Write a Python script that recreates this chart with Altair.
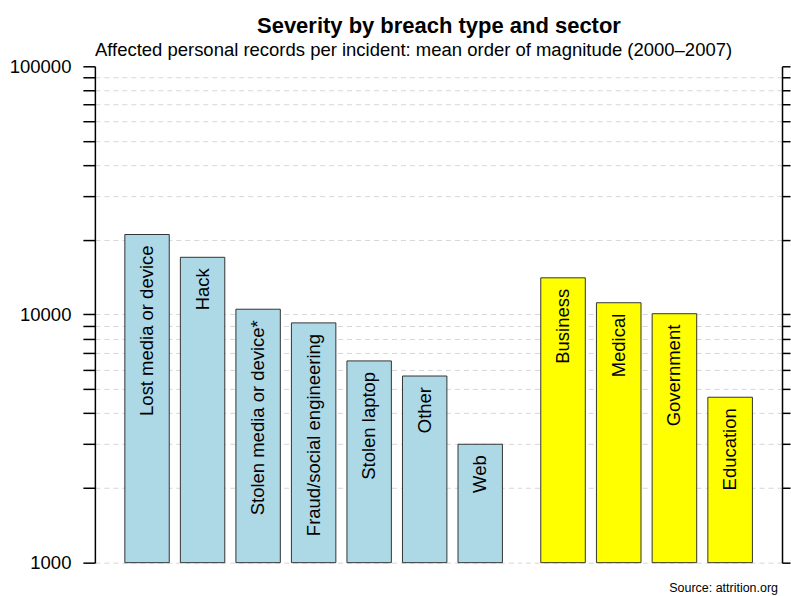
import altair as alt
import pandas as pd

# Breach types (light blue) and sectors (yellow): mean records per incident
types = ["Lost media or device", "Hack", "Stolen media or device*",
         "Fraud/social engineering", "Stolen laptop", "Other", "Web"]
type_records = [21000, 17000, 10500, 9250, 6500, 5650, 3000]

sectors = ["Business", "Medical", "Government", "Education"]
sector_records = [14050, 11150, 10070, 4640]

tick_values = [m * 10 ** e for e in (3, 4) for m in range(1, 10)] + [100000]
decades = [1000, 10000, 100000]

FONT = "Liberation Sans"
PLOT_H = 497


def y_enc(orient, show_labels):
    label_expr = " || ".join(f"datum.value == {d}" for d in decades)
    return alt.Y(
        "records:Q",
        scale=alt.Scale(type="log", domain=[1000, 100000], nice=False),
        axis=alt.Axis(
            orient=orient,
            values=tick_values,
            labels=show_labels,
            labelExpr=f"({label_expr}) ? format(datum.value, 'd') : ''",
            labelFontSize=18.5,
            labelColor="black",
            labelFont=FONT,
            labelPadding=12,
            labelFlush=False,
            labelOverlap=False,
            labelBound=False,
            tickSize=12 if orient == "left" else 8,
            tickColor="black",
            tickWidth=1.5,
            domainColor="black",
            domainWidth=1.5,
            grid=True,
            gridColor={"condition": {"test": "datum.value >= 100000", "value": "transparent"},
                       "value": "#d6d6d6"},
            gridDash=[5, 4],
            gridWidth=1,
            title=None,
        ),
    )


def panel(names, values, fill, width, align, orient, show_labels, title):
    df = pd.DataFrame({"name": names, "records": values})
    x = alt.X("name:N", sort=None, axis=None,
              scale=alt.Scale(paddingInner=0.2, paddingOuter=0.44, align=align))
    y = y_enc(orient, show_labels)
    bars = alt.Chart(df).mark_bar(fill=fill, stroke="#333333", strokeWidth=1).encode(
        x=x, y=y, y2=alt.datum(1000)
    )
    text = alt.Chart(df).mark_text(
        angle=270, align="right", baseline="middle", dx=-11,
        fontSize=18.5, font=FONT, color="black"
    ).encode(x=x, y=y, text="name:N")
    return alt.layer(bars, text).properties(width=width, height=PLOT_H, title=title)


left = panel(
    types, type_records, "#add8e6", 427, 0.613, "left", True,
    alt.TitleParams(
        "Affected personal records per incident: mean order of magnitude (2000\u20132007)",
        anchor="start", frame="group", fontSize=18.5, fontWeight="normal", font=FONT,
        color="black", baseline="alphabetic", offset=-17,
    ),
)
right = panel(
    sectors, sector_records, "#ffff00", 261, 0.396, "right", False,
    alt.TitleParams(
        "Source: attrition.org", orient="bottom", anchor="end", frame="group",
        fontSize=12.5, fontWeight="normal", font=FONT, color="black",
        baseline="top", offset=19, dx=-4,
    ),
)

chart = alt.hconcat(left, right, spacing=0, bounds="flush").properties(
    title=alt.TitleParams(
        "Severity by breach type and sector", anchor="middle",
        fontSize=22, fontWeight="bold", font=FONT, color="black",
        baseline="alphabetic", offset=-14, dx=39,
    ),
    padding={"left": 9, "top": 14, "right": 0, "bottom": 0},
).configure(font=FONT, background="white").configure_view(stroke=None)

chart.save("out.html", embed_options={"renderer": "svg", "actions": False})
